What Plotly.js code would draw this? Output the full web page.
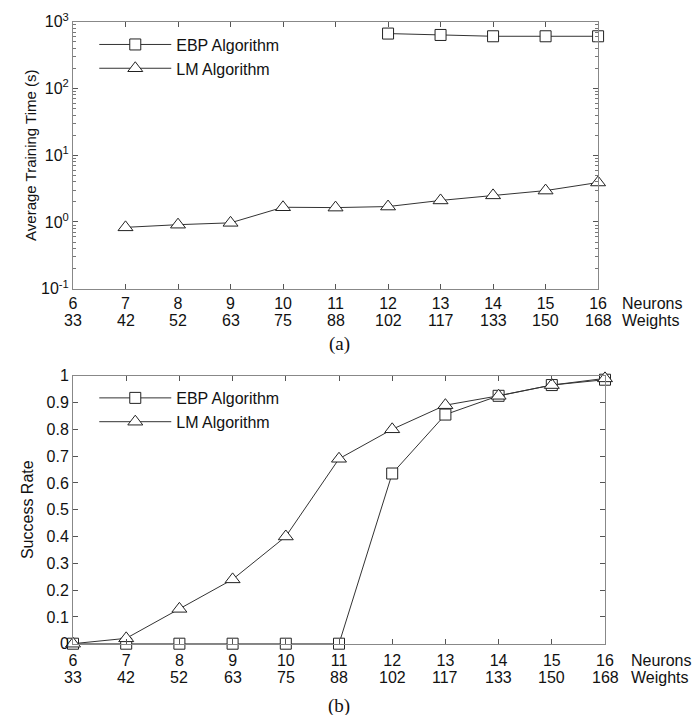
<!DOCTYPE html>
<html><head><meta charset="utf-8">
<script src="https://cdn.plot.ly/plotly-3.0.1.min.js"></script>
<style>body{margin:0;padding:0;background:#fff}#chart{width:700px;height:715px}</style>
</head><body><div id="chart"></div>
<script>
const neurons = [6,7,8,9,10,11,12,13,14,15,16];
const weights = [33,42,52,63,75,88,102,117,133,150,168];
// (a) average training time (s)
const timeX_EBP = [12,13,14,15,16];
const timeEBP = [664,633,605,605,605];
const timeX_LM = [7,8,9,10,11,12,13,14,15,16];
const timeLM = [0.83,0.91,0.97,1.66,1.64,1.7,2.1,2.5,2.95,3.9];
// (b) success rate
const rateEBP = [0,0,0,0,0,0,0.635,0.855,0.925,0.965,0.985];
const rateLM = [0,0.02,0.13,0.24,0.40,0.69,0.80,0.89,0.925,0.965,0.99];
const yLogTicks = [0.1,1,10,100,1000];
const yLogText = ['10<sup>-1</sup>','10<sup>0</sup>','10<sup>1</sup>','10<sup>2</sup>','10<sup>3</sup>'];
const yLogMinor = [0.2,0.3,0.4,0.5,0.6,0.7,0.8,0.9,2,3,4,5,6,7,8,9,20,30,40,50,60,70,80,90,200,300,400,500,600,700,800,900];
const yLinTicks = [0,0.1,0.2,0.3,0.4,0.5,0.6,0.7,0.8,0.9,1];
const yLinText = ['0','0.1','0.2','0.3','0.4','0.5','0.6','0.7','0.8','0.9','1'];

const FAM = 'Liberation Sans, Arial, sans-serif';
const font = {family:FAM, size:16, color:'#111'};
const sq = {symbol:'square', size:11, color:'#fff', line:{color:'#222', width:1}};
const tri = {symbol:'triangle-up', size:13, color:'#fff', line:{color:'#222', width:1}};
const ln = {color:'#333', width:1};

const traces = [
  {x:timeX_EBP, y:timeEBP, mode:'lines+markers', name:'EBP Algorithm', line:ln, marker:sq, xaxis:'x', yaxis:'y', legend:'legend', cliponaxis:false},
  {x:timeX_LM, y:timeLM, mode:'lines+markers', name:'LM Algorithm', line:ln, marker:tri, xaxis:'x', yaxis:'y', legend:'legend', cliponaxis:false},
  {x:neurons, y:rateEBP, mode:'lines+markers', name:'EBP Algorithm', line:ln, marker:sq, xaxis:'x2', yaxis:'y2', legend:'legend2', cliponaxis:false},
  {x:neurons, y:rateLM, mode:'lines+markers', name:'LM Algorithm', line:ln, marker:tri, xaxis:'x2', yaxis:'y2', legend:'legend2', cliponaxis:false}
];

const axBase = {showline:true, linecolor:'#888', linewidth:1, mirror:'ticks', ticks:'inside', ticklen:5, tickcolor:'#555', showgrid:false, zeroline:false, tickfont:font};

const weightNotes = [];
neurons.forEach((n,i)=>{
  weightNotes.push({text:String(weights[i]), xref:'x', yref:'paper', x:n, y:0.5735, xanchor:'center', yanchor:'top', showarrow:false, font:font, yshift:-21});
  weightNotes.push({text:String(weights[i]), xref:'x2', yref:'paper', x:n, y:0.01, xanchor:'center', yanchor:'top', showarrow:false, font:font, yshift:-23});
});

const layout = {
  width:700, height:715,
  margin:{l:73, r:95, t:20, b:65},
  paper_bgcolor:'#fff', plot_bgcolor:'#fff',
  font:font,
  xaxis: Object.assign({}, axBase, {domain:[0,0.987], range:[6,16], tickvals:neurons, ticktext:neurons.map(String), anchor:'y'}),
  yaxis: Object.assign({}, axBase, {domain:[0.5735,0.9973], type:'log', range:[-1,3], tickvals:yLogTicks, ticktext:yLogText, anchor:'x',
    minor:{tickvals:yLogMinor, ticks:'inside', ticklen:3, tickcolor:'#777', showgrid:false},
    title:{text:'Average Training Time (s)', font:{family:FAM, size:15, color:'#111'}, standoff:0}}),
  xaxis2: Object.assign({}, axBase, {domain:[0,1], range:[6,16], tickvals:neurons, ticktext:neurons.map(String), anchor:'y2', ticklabelstandoff:2}),
  yaxis2: Object.assign({}, axBase, {domain:[0.01,0.4354], range:[0,1], tickvals:yLinTicks, ticktext:yLinText, anchor:'x2',
    title:{text:'Success Rate', font:{family:FAM, size:16, color:'#111'}, standoff:8}}),
  legend:{x:0.04, y:0.988, xref:'paper', yref:'paper', xanchor:'left', yanchor:'top', bgcolor:'rgba(0,0,0,0)', font:font, itemwidth:72, tracegroupgap:0},
  legend2:{x:0.04, y:0.427, xref:'paper', yref:'paper', xanchor:'left', yanchor:'top', bgcolor:'rgba(0,0,0,0)', font:font, itemwidth:72, tracegroupgap:0},
  showlegend:true,
  annotations:[
    {text:'Neurons', xref:'paper', yref:'paper', x:0.987, y:0.5735, xanchor:'left', yanchor:'top', showarrow:false, align:'left', font:font, xshift:22, yshift:-4},
    {text:'Weights', xref:'paper', yref:'paper', x:0.987, y:0.5735, xanchor:'left', yanchor:'top', showarrow:false, align:'left', font:font, xshift:22, yshift:-21},
    {text:'Neurons', xref:'paper', yref:'paper', x:1.0, y:0.01, xanchor:'left', yanchor:'top', showarrow:false, align:'left', font:font, xshift:24, yshift:-6},
    {text:'Weights', xref:'paper', yref:'paper', x:1.0, y:0.01, xanchor:'left', yanchor:'top', showarrow:false, align:'left', font:font, xshift:24, yshift:-23},
    {text:'(a)', xref:'paper', yref:'paper', x:0.5, y:0.5735, xanchor:'center', yanchor:'top', showarrow:false, yshift:-42, font:{family:'Liberation Serif, Times New Roman, serif', size:19, color:'#111'}},
    {text:'(b)', xref:'paper', yref:'paper', x:0.5, y:0.01, xanchor:'center', yanchor:'top', showarrow:false, yshift:-49, font:{family:'Liberation Serif, Times New Roman, serif', size:19, color:'#111'}}
  ].concat(weightNotes)
};
Plotly.newPlot('chart', traces, layout, {displayModeBar:false, staticPlot:true});
</script></body></html>
